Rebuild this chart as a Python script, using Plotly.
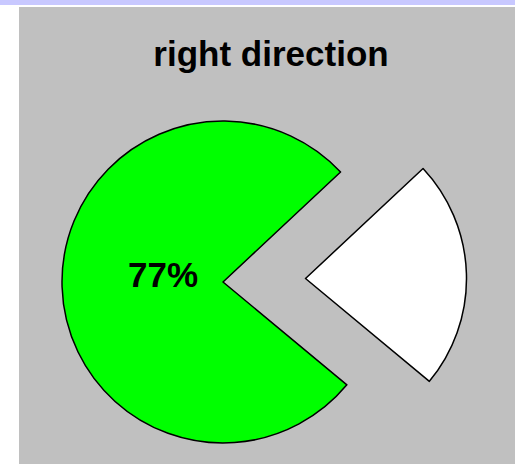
import plotly.graph_objects as go

# Data
labels = ["right direction", "wrong track"]
values = [77, 23]
slice_colors = ["#00ff00", "#ffffff"]
title_text = "right direction"

W, H = 520, 464

def px_dom_x(cx, r):
    return [(cx - r) / W, (cx + r) / W]

def px_dom_y(cy, r):
    return [1 - (cy + r) / H, 1 - (cy - r) / H]

total = sum(values)
tilt = 1.7  # white slice centre slightly above 3 o'clock
rot = 90 - tilt + (values[1] / total) * 360 / 2

R = 161
cy_main, cx_main = 282, 223
cy_pulled, cx_pulled = 278.5, 305.5

transparent = "rgba(0,0,0,0)"
font_family = "Liberation Sans, Arial, sans-serif"

fig = go.Figure()

# main (green) slice
fig.add_trace(go.Pie(
    labels=labels, values=values, sort=False, direction="clockwise", rotation=rot,
    marker=dict(colors=[slice_colors[0], transparent],
                line=dict(color=["black", transparent], width=[1.5, 0])),
    textinfo="none",
    domain=dict(x=px_dom_x(cx_main, R), y=px_dom_y(cy_main, R)),
    hoverinfo="skip", showlegend=False,
))

# pulled-out (white) slice
fig.add_trace(go.Pie(
    labels=labels, values=values, sort=False, direction="clockwise", rotation=rot,
    marker=dict(colors=[transparent, slice_colors[1]],
                line=dict(color=[transparent, "black"], width=[0, 1.5])),
    textinfo="none",
    domain=dict(x=px_dom_x(cx_pulled, R), y=px_dom_y(cy_pulled, R)),
    hoverinfo="skip", showlegend=False,
))

pct_label = f"{round(values[0] / total * 100)}%"

fig.update_layout(
    width=W, height=H,
    margin=dict(l=0, r=0, t=0, b=0),
    paper_bgcolor="white",
    plot_bgcolor="white",
    title=dict(text=title_text, x=271 / W, xanchor="center", y=1 - 53.75 / H, yanchor="middle",
               yref="container",
               font=dict(size=35, color="black", family=font_family, weight="bold")),
    annotations=[
        dict(text=pct_label, xref="paper", yref="paper", x=163 / W, y=1 - 274 / H,
             xanchor="center", yanchor="middle", showarrow=False,
             font=dict(size=35, color="black", family=font_family, weight="bold")),
    ],
    shapes=[
        dict(type="rect", xref="paper", yref="paper", x0=0, x1=515 / W, y0=1 - 5 / H, y1=1,
             fillcolor="#c8c8ff", line=dict(width=0), layer="below"),
        dict(type="rect", xref="paper", yref="paper", x0=19 / W, x1=515 / W, y0=0, y1=1 - 7 / H,
             fillcolor="#c0c0c0", line=dict(width=0), layer="below"),
    ],
)

fig.write_html("out.html",
               config={"displayModeBar": False},
               post_script="document.body.style.margin='0';document.body.style.overflow='hidden';")
